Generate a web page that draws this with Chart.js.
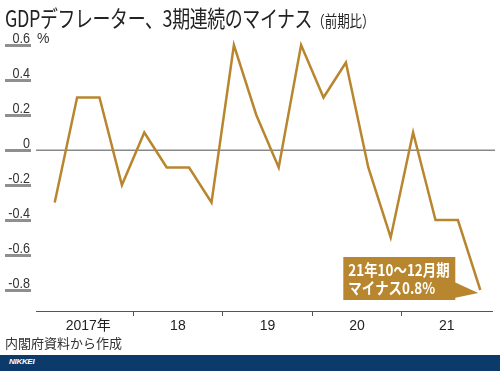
<!DOCTYPE html>
<html>
<head>
<meta charset="utf-8">
<script src="https://cdn.jsdelivr.net/npm/chart.js@4"></script>
<style>
    body { margin: 0; background: #fff; }
    #wrap { position: relative; width: 500px; height: 371px; overflow: hidden; font-family: "Noto Sans CJK JP", "Liberation Sans", sans-serif; }
    #chartCanvas { position: absolute; left: 0; top: 0; }
    .title { position: absolute; left: 5px; top: 0px; white-space: nowrap; color: #222; transform: scaleX(0.78); transform-origin: left top; }
    .title .main { font-size: 23px; letter-spacing: -0.5px; }
    .title .sub { font-size: 16px; }
    .source { position: absolute; left: 5px; top: 333px; font-size: 13px; color: #333; }
    .footer { position: absolute; left: 0; top: 355px; width: 500px; height: 16px; background: #0b3a6b; }
    .footer span { position: absolute; left: 9px; top: 2px; font: italic bold 8px "Liberation Sans", sans-serif; color: #fff; letter-spacing: -0.3px; }
</style>
</head>
<body>
<div id="wrap">
    <canvas id="chartCanvas" width="500" height="371"></canvas>
    <div class="title"><span class="main">GDPデフレーター、3期連続のマイナス</span><span class="sub">（前期比）</span></div>
    <div class="source">内閣府資料から作成</div>
    <div class="footer"><span>NIKKEI</span></div>
</div>

<script>
    const quarters = ["2017Q1", "2017Q2", "2017Q3", "2017Q4", "2018Q1", "2018Q2", "2018Q3", "2018Q4",
        "2019Q1", "2019Q2", "2019Q3", "2019Q4", "2020Q1", "2020Q2", "2020Q3", "2020Q4",
        "2021Q1", "2021Q2", "2021Q3", "2021Q4"]
    const deflator = [-0.3, 0.3, 0.3, -0.2, 0.1, -0.1, -0.1, -0.3,
        0.6, 0.2, -0.1, 0.6, 0.3, 0.5, -0.1, -0.5,
        0.1, -0.4, -0.4, -0.8]
    const yearLabels = ["2017年", "18", "19", "20", "21"]
    const yTicks = [0.6, 0.4, 0.2, 0, -0.2, -0.4, -0.6, -0.8]
    const noteLines = ["21年10～12月期", "マイナス0.8%"]

    const GOLD = "#b8862f"
    const LABEL_FONT = '14px "Liberation Sans", sans-serif'

    // zero line and x axis line under the series
    const axisLines = {
        id: "axisLines",
        beforeDatasetsDraw(chart) {
            const ctx = chart.ctx
            const y = chart.scales.y
            ctx.save()
            ctx.fillStyle = "#888"
            ctx.fillRect(36, Math.round(y.getPixelForValue(0)) - 0.5, 459, 1.5)
            ctx.fillStyle = "#555"
            ctx.fillRect(36, Math.round(chart.chartArea.bottom), 457, 1)
            ctx.restore()
        }
    }

    // y labels with underline, callout box
    const decorations = {
        id: "decorations",
        afterDraw(chart) {
            const ctx = chart.ctx
            const y = chart.scales.y
            ctx.save()
            for (const v of yTicks) {
                const py = Math.round(y.getPixelForValue(v))
                ctx.fillStyle = "#8f8f8f"
                ctx.fillRect(5, py - 1, 26, 3)
                ctx.save()
                ctx.translate(30, py - 2)
                ctx.scale(0.9, 1)
                ctx.font = LABEL_FONT
                ctx.textAlign = "right"
                ctx.textBaseline = "alphabetic"
                ctx.fillStyle = "#333"
                ctx.fillText(v === 0 ? "0" : v.toFixed(1), 0, 0)
                ctx.restore()
            }
            ctx.font = LABEL_FONT
            ctx.fillStyle = "#333"
            ctx.textAlign = "left"
            ctx.textBaseline = "alphabetic"
            ctx.fillText("%", 37, Math.round(y.getPixelForValue(0.6)) - 2)

            const pt = chart.getDatasetMeta(0).data[deflator.length - 1]
            const bx = pt.x - 137, byTop = pt.y - 33, bw = 112, bh = 43
            ctx.fillStyle = GOLD
            ctx.fillRect(bx, byTop, bw, bh)
            ctx.beginPath()
            ctx.moveTo(bx + bw - 1, byTop + 25)
            ctx.lineTo(pt.x - 2, pt.y + 3)
            ctx.lineTo(bx + bw - 1, byTop + 41)
            ctx.closePath()
            ctx.fill()
            ctx.fillStyle = "#fff"
            ctx.font = 'bold 16px "Noto Sans CJK JP", sans-serif'
            ctx.textBaseline = "middle"
            for (let i = 0; i < noteLines.length; i++) {
                ctx.save()
                ctx.translate(bx + 5, byTop + 13 + i * 18)
                ctx.scale(0.84, 1)
                ctx.fillText(noteLines[i], 0, 0)
                ctx.restore()
            }
            ctx.restore()
        }
    }

    new Chart(chartCanvas, {
        type: "line",
        data: {
            labels: quarters,
            datasets: [{
                data: deflator,
                borderColor: GOLD,
                borderWidth: 2.5,
                pointRadius: 0,
                tension: 0,
                borderJoinStyle: "miter"
            }]
        },
        options: {
            responsive: false,
            animation: false,
            layout: { padding: { left: 43.5, right: 8.5, top: 24, bottom: 0 } },
            plugins: { legend: { display: false }, tooltip: { enabled: false } },
            scales: {
                x: {
                    offset: true,
                    border: { display: false },
                    grid: {
                        offset: true,
                        drawOnChartArea: false,
                        drawTicks: true,
                        tickLength: 5,
                        lineWidth: 1,
                        color: (c) => (c.index > 0 && c.index < quarters.length && c.index % 4 === 0) ? "#555" : "rgba(0,0,0,0)"
                    },
                    ticks: {
                        autoSkip: false,
                        maxRotation: 0,
                        padding: 2,
                        labelOffset: 11.2,
                        color: "#222",
                        font: { family: '"Liberation Sans", "Noto Sans CJK JP", sans-serif', size: 14 },
                        callback: (v, i) => i % 4 === 1 ? yearLabels[(i - 1) / 4] : ""
                    },
                    afterFit: (s) => { s.height = 60 }
                },
                y: {
                    display: false,
                    min: -0.92,
                    max: 0.72
                }
            }
        },
        plugins: [axisLines, decorations]
    })
</script>
</body>
</html>
